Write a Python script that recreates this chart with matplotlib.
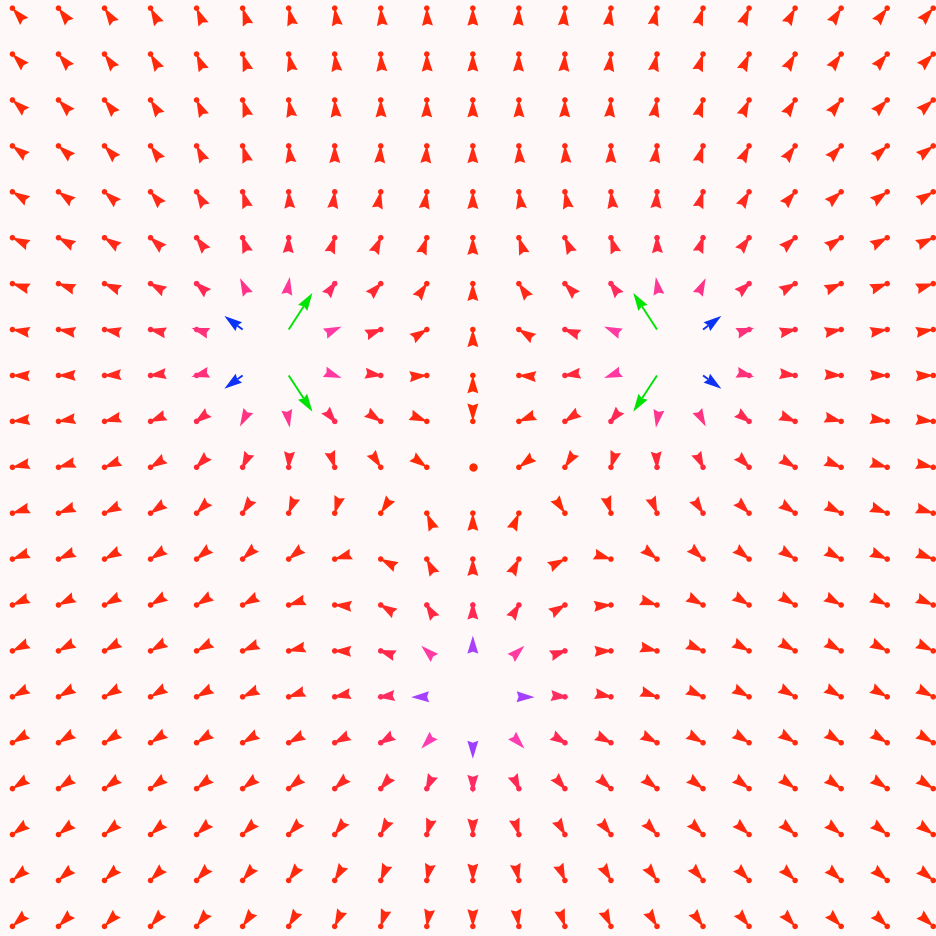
import numpy as np
import matplotlib.pyplot as plt
from matplotlib.collections import PolyCollection
from matplotlib.colors import LinearSegmentedColormap
from matplotlib.transforms import IdentityTransform

# three equal point charges (two eyes and a mouth) on a circle of radius 5
charge_x = [-4.33, 4.33, 0.0]
charge_y = [2.5, 2.5, -5.0]
charge_q = [1.0, 1.0, 1.0]

# sample positions of the vector field
grid_x = np.arange(-10, 11)
grid_y = np.arange(-10, 11)

# colour stops against field strength
stop_mag = [0.0, 0.2, 0.5, 1.0, 1.45, 2.8]
stop_col = ['#ff2a00', '#ff2850', '#ff3cac', '#a540ff', '#0a32f5', '#00e600']

BG = '#fff8f9'
PX_PER_UNIT = 15.7      # arrow length in pixels per unit of field strength
HEAD_LEN = 18.0
HEAD_W = 11.0
NOTCH = 2.0
SHAFT_W = 1.9

X, Y = np.meshgrid(grid_x.astype(float), grid_y.astype(float))
X, Y = X.ravel(), Y.ravel()
Ex = np.zeros_like(X)
Ey = np.zeros_like(X)
on_charge = np.zeros(X.shape, dtype=bool)
for cx, cy, q in zip(charge_x, charge_y, charge_q):
    dx, dy = X - cx, Y - cy
    r2 = dx ** 2 + dy ** 2
    on_charge |= r2 < 1e-9
    r3 = np.where(r2 > 1e-9, r2 ** 1.5, np.inf)
    Ex += q * dx / r3
    Ey += q * dy / r3

keep = ~on_charge
X, Y, Ex, Ey = X[keep], Y[keep], Ex[keep], Ey[keep]
mag = np.hypot(Ex, Ey)

cmap = LinearSegmentedColormap.from_list(
    'strength', [(m / stop_mag[-1], c) for m, c in zip(stop_mag, stop_col)])
colors = cmap(np.clip(mag / stop_mag[-1], 0, 1))

fig = plt.figure(figsize=(9.36, 9.37), dpi=100, facecolor=BG)
ax = fig.add_axes([0, 0, 1, 1])
ax.set_facecolor(BG)
ax.set_xlim(-10.27, 10.06)
ax.set_ylim(-10.21, 10.2)
ax.set_axis_off()

moving = mag > 1e-3
verts, offs, cols = [], [], []
for x, y, ex, ey, m, c in zip(X[moving], Y[moving], Ex[moving], Ey[moving],
                              mag[moving], colors[moving]):
    u = np.array([ex, ey]) / m
    n = np.array([-u[1], u[0]])
    L = PX_PER_UNIT * m
    tip = L * u
    back = (L - HEAD_LEN) * u
    join = (L - HEAD_LEN + NOTCH) * u
    verts.append([tip, back + n * HEAD_W / 2, join, back - n * HEAD_W / 2])
    offs.append((x, y))
    cols.append(c)
    if L - HEAD_LEN + NOTCH > 0:
        s = n * SHAFT_W / 2
        verts.append([s, join + s, join - s, -s])
        offs.append((x, y))
        cols.append(c)

arrows = PolyCollection(verts, offsets=offs, offset_transform=ax.transData,
                        transform=IdentityTransform(), facecolors=cols,
                        edgecolors='none', antialiased=True)
ax.add_collection(arrows)

# round heads on the weak vectors, a larger dot where the field vanishes
weak = (mag < 0.35) & moving
ax.scatter(X[weak], Y[weak], s=16, c=colors[weak], linewidths=0, zorder=3)
ax.scatter(X[~moving], Y[~moving], s=36, c=colors[~moving], linewidths=0, zorder=3)

fig.savefig('out.png', dpi=100, facecolor=BG)
